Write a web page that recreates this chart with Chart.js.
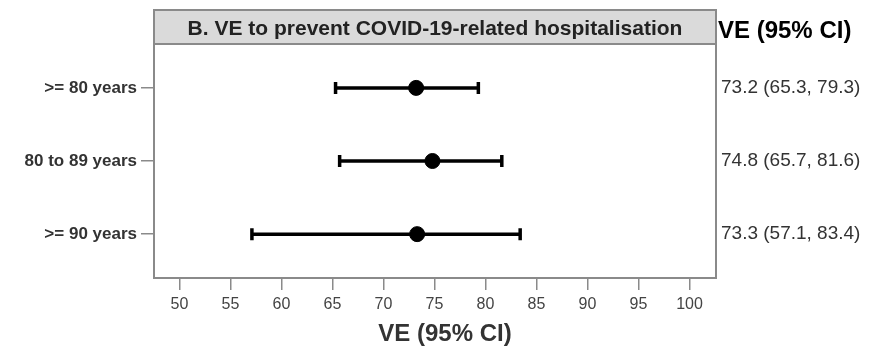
<!DOCTYPE html>
<html>
<head>
<meta charset="utf-8">
<script src="https://cdn.jsdelivr.net/npm/chart.js@4"></script>
<style>
  html, body { margin: 0; padding: 0; background: #fff; }
  #wrap { width: 869px; height: 350px; }
</style>
</head>
<body>
<div id="wrap"><canvas id="veChart" width="869" height="350"></canvas></div>
<script>
// Dados
var groups = ['>= 80 years', '80 to 89 years', '>= 90 years'];
var ve = [73.2, 74.8, 73.3];
var ciLow = [65.3, 65.7, 57.1];
var ciHigh = [79.3, 81.6, 83.4];
var ciText = ['73.2 (65.3, 79.3)', '74.8 (65.7, 81.6)', '73.3 (57.1, 83.4)'];
var xTicks = [50, 55, 60, 65, 70, 75, 80, 85, 90, 95, 100];
var panelTitle = 'B. VE to prevent COVID-19-related hospitalisation';
var axisTitle = 'VE (95% CI)';

var fontMain = "'Liberation Sans', Arial, sans-serif";
var frameColor = '#8a8a8a';

// pontos para o scatter
var points = ve.map(function (v, i) { return { x: v, y: i + 1 }; });

// plugin: faixa do título, moldura, barras de erro e textos
var forestPlugin = {
  id: 'forest',
  beforeDatasetsDraw: function (chart) {
    var ctx = chart.ctx;
    var xs = chart.scales.x;
    var ys = chart.scales.y;

    // barras de erro
    ctx.save();
    ctx.strokeStyle = '#000';
    ctx.lineWidth = 3.5;
    for (var i = 0; i < groups.length; i++) {
      var y = ys.getPixelForValue(i + 1);
      var x1 = xs.getPixelForValue(ciLow[i]);
      var x2 = xs.getPixelForValue(ciHigh[i]);
      ctx.beginPath();
      ctx.moveTo(x1, y);
      ctx.lineTo(x2, y);
      ctx.moveTo(x1, y - 6);
      ctx.lineTo(x1, y + 6);
      ctx.moveTo(x2, y - 6);
      ctx.lineTo(x2, y + 6);
      ctx.stroke();
    }
    ctx.restore();
  },
  afterDraw: function (chart) {
    var ctx = chart.ctx;
    var area = chart.chartArea;
    var ys = chart.scales.y;
    var stripTop = 10;

    ctx.save();
    // faixa cinza do título
    ctx.fillStyle = '#dadada';
    ctx.fillRect(area.left, stripTop, area.right - area.left, area.top - stripTop);
    ctx.strokeStyle = frameColor;
    ctx.lineWidth = 2;
    ctx.strokeRect(area.left, stripTop, area.right - area.left, area.bottom - stripTop);
    ctx.beginPath();
    ctx.moveTo(area.left, area.top);
    ctx.lineTo(area.right, area.top);
    ctx.stroke();

    ctx.fillStyle = '#222';
    ctx.font = "bold 21px " + fontMain;
    ctx.textAlign = 'center';
    ctx.textBaseline = 'middle';
    ctx.fillText(panelTitle, (area.left + area.right) / 2, (stripTop + area.top) / 2 + 2);

    // título do eixo x
    ctx.fillStyle = '#333';
    ctx.font = "bold 24px " + fontMain;
    ctx.fillText(axisTitle, (area.left + area.right) / 2 + 10, 334);

    // cabeçalho da coluna da direita
    ctx.fillStyle = '#000';
    ctx.font = "bold 24px " + fontMain;
    ctx.textAlign = 'left';
    ctx.fillText(axisTitle, area.right + 2, 31);

    // valores VE (IC 95%)
    ctx.fillStyle = '#333';
    ctx.font = "19px " + fontMain;
    for (var i = 0; i < ciText.length; i++) {
      ctx.fillText(ciText[i], area.right + 5, ys.getPixelForValue(i + 1));
    }
    ctx.restore();
  }
};

var ctx = document.getElementById('veChart').getContext('2d');
var veChart = new Chart(ctx, {
  type: 'scatter',
  data: {
    datasets: [{
      label: 'VE',
      data: points,
      backgroundColor: '#000',
      borderColor: '#000',
      pointRadius: 7.5,
      pointHoverRadius: 7.5
    }]
  },
  options: {
    responsive: false,
    animation: false,
    layout: { padding: { top: 44, right: 153, left: 0, bottom: 0 } },
    plugins: {
      legend: { display: false },
      tooltip: { enabled: false }
    },
    scales: {
      x: {
        type: 'linear',
        min: 47.5,
        max: 102.6,
        afterBuildTicks: function (scale) {
          scale.ticks = xTicks.map(function (v) { return { value: v }; });
        },
        afterFit: function (scale) { scale.height = 72; },
        grid: { drawOnChartArea: false, tickLength: 12, color: frameColor, lineWidth: 1.5 },
        border: { display: false },
        ticks: {
          color: '#444',
          padding: 5,
          font: { family: fontMain, size: 16 }
        }
      },
      y: {
        type: 'linear',
        reverse: true,
        min: 0.4,
        max: 3.6,
        afterBuildTicks: function (scale) {
          scale.ticks = groups.map(function (g, i) { return { value: i + 1 }; });
        },
        afterFit: function (scale) { scale.width = 154; },
        grid: { drawOnChartArea: false, tickLength: 13, color: frameColor, lineWidth: 1.5 },
        border: { display: false },
        ticks: {
          color: '#333',
          padding: 4,
          font: { family: fontMain, size: 17, weight: 'bold' },
          callback: function (value) { return groups[value - 1] || ''; }
        }
      }
    }
  },
  plugins: [forestPlugin]
});
</script>
</body>
</html>
